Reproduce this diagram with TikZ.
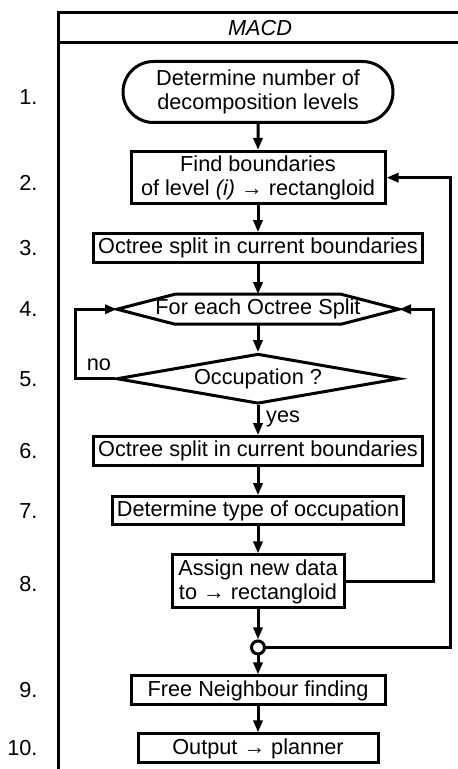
\documentclass[tikz,border=0pt]{standalone}
\usepackage{fontspec}
\setmainfont{Liberation Sans}
\usetikzlibrary{arrows.meta,positioning,shapes.geometric,shapes.misc}

\begin{document}
\begin{tikzpicture}[
        node distance=13.5pt,
        font=\fontsize{10.85}{12}\selectfont,
        line width=1.5pt,
        stepbox/.style={draw, rectangle, align=center, minimum height=14.5pt, inner sep=2pt},
        startbox/.style={draw, rounded rectangle, align=center, minimum width=137pt, minimum height=30.5pt, inner sep=1pt},
        loopbox/.style={rectangle, outer sep=0pt, minimum width=141pt, minimum height=15pt, inner sep=0pt},
        decide/.style={draw, diamond, aspect=5.66, minimum width=141.5pt, minimum height=25pt, inner sep=0pt},
        junction/.style={draw, circle, fill=white, minimum size=6.5pt, inner sep=0pt},
        num/.style={anchor=east, inner sep=0pt},
        arr/.style={-{Triangle[length=6pt,width=4.5pt]}}
    ]
        \useasboundingbox (0,0) rectangle (229pt,-384.5pt);

        % lane
        \draw (29.25pt,-384.5pt) |- (229pt,-6.5pt);
        \draw (29.25pt,-21.5pt) -- (229pt,-21.5pt);
        \node (title) at (130pt,-14.25pt) {\textit{MACD}};

        \node[startbox] (n1) at (129pt,-46pt) {Determine number of\\decomposition levels};
        \node[stepbox, below=13pt of n1, minimum width=127pt, minimum height=25pt] (n2) {Find boundaries\\of level \textit{(i)} → rectangloid};
        \node[stepbox, below=of n2, minimum width=164.5pt] (n3) {Octree split in current boundaries};
        \node[loopbox, below=15pt of n3] (n4) {For each Octree Split};
        \draw (n4.west) -- ([xshift=29pt]n4.north west) -- ([xshift=-29pt]n4.north east)
            -- (n4.east) -- ([xshift=-29pt]n4.south east) -- ([xshift=29pt]n4.south west) -- cycle;
        \node[decide, below=14pt of n4] (n5) {Occupation ?};
        \node[stepbox, below=15pt of n5, minimum width=164.5pt] (n6) {Octree split in current boundaries};
        \node[stepbox, below=14pt of n6, minimum width=144pt, minimum height=14pt] (n7) {Determine type of occupation};
        \node[stepbox, below=of n7, minimum width=86pt, minimum height=26.5pt] (n8) {Assign new data\\to → rectangloid};
        \node[junction, below=15pt of n8] (jn) {};
        \node[stepbox, below=9.5pt of jn, minimum width=127pt] (n9) {Free Neighbour finding};
        \node[stepbox, below=13pt of n9, minimum width=120pt] (n10) {Output → planner};

        % step numbers
        \coordinate (numx) at (19.5pt,0);
        \node[num, yshift=-2.5pt] at (numx |- n1) {1.};
        \node[num, yshift=-2.5pt] at (numx |- n2) {2.};
        \node[num] at (numx |- n3) {3.};
        \node[num] at (numx |- n4) {4.};
        \node[num] at (numx |- n5) {5.};
        \node[num] at (numx |- n6) {6.};
        \node[num] at (numx |- n7) {7.};
        \node[num, yshift=-1.5pt] at (numx |- n8) {8.};
        \node[num] at (numx |- n9) {9.};
        \node[num] at (numx |- n10) {10.};

        % rails of the loops
        \coordinate (noX) at (37.5pt,0);
        \coordinate (railA) at (216.5pt,0);
        \coordinate (railB) at (225pt,0);

        \draw[arr] (n1) -- (n2);
        \draw[arr] (n2) -- (n3);
        \draw[arr] (n3) -- (n4);
        \draw[arr] (n4) -- (n5);
        \draw[arr] (n5.west) -- (n5.west -| noX) node[pos=0.4, above] {no} |- (n4.west);
        \draw[arr] (n5) -- node[right, pos=0.45] {yes} (n6);
        \draw[arr] (n6) -- (n7);
        \draw[arr] (n7) -- (n8);
        \draw[arr] (n8.east) -- (n8.east -| railA) |- (n4.east);
        \draw[arr] (n8) -- (jn);
        \draw[arr] (jn.east) -- (jn -| railB) |- (n2.east);
        \draw[arr] (jn) -- (n9);
        \draw[arr] (n9) -- (n10);
    \end{tikzpicture}
\end{document}
